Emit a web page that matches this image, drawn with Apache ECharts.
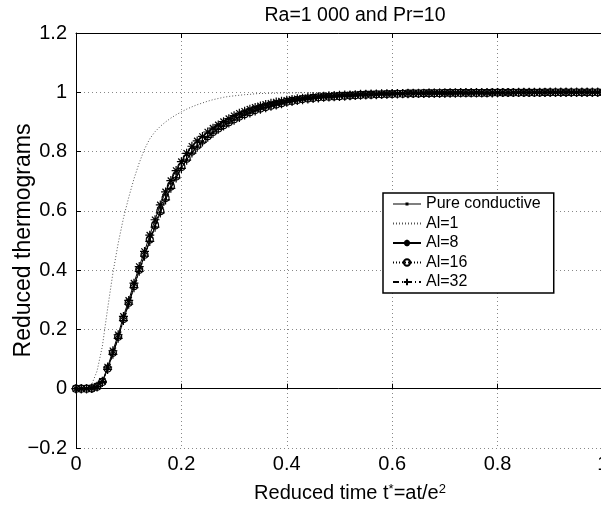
<!DOCTYPE html>
<html>
<head>
<meta charset="utf-8">
<script src="https://cdn.jsdelivr.net/npm/echarts@6/dist/echarts.min.js"></script>
<style>
  html, body { margin: 0; padding: 0; background: #fff; }
  #chart { width: 601px; height: 510px; }
</style>
</head>
<body>
<div id="chart"></div>
<script>
// reduced time t* (sampled every 0.01)
var time = [0,0.01,0.02,0.03,0.04,0.05,0.06,0.07,0.08,0.09,
  0.10,0.11,0.12,0.13,0.14,0.15,0.16,0.17,0.18,0.19,
  0.20,0.21,0.22,0.23,0.24,0.25,0.26,0.27,0.28,0.29,
  0.30,0.31,0.32,0.33,0.34,0.35,0.36,0.37,0.38,0.39,
  0.40,0.41,0.42,0.43,0.44,0.45,0.46,0.47,0.48,0.49,
  0.50,0.51,0.52,0.53,0.54,0.55,0.56,0.57,0.58,0.59,
  0.60,0.61,0.62,0.63,0.64,0.65,0.66,0.67,0.68,0.69,
  0.70,0.71,0.72,0.73,0.74,0.75,0.76,0.77,0.78,0.79,
  0.80,0.81,0.82,0.83,0.84,0.85,0.86,0.87,0.88,0.89,
  0.90,0.91,0.92,0.93,0.94,0.95,0.96,0.97,0.98,0.99,
  1.00];

var pureCond = [0,0,0,0.001,0.006,0.022,0.066,0.118,0.172,0.232,
  0.287,0.343,0.398,0.449,0.500,0.548,0.596,0.640,0.679,0.713,
  0.745,0.773,0.797,0.817,0.834,0.850,0.864,0.876,0.887,0.897,
  0.907,0.916,0.924,0.931,0.938,0.944,0.949,0.954,0.958,0.962,
  0.967,0.970,0.973,0.976,0.978,0.980,0.982,0.984,0.985,0.986,
  0.987,0.988,0.989,0.990,0.991,0.992,0.992,0.993,0.993,0.994,
  0.994,0.995,0.995,0.996,0.996,0.996,0.997,0.997,0.997,0.997,
  0.997,0.998,0.998,0.998,0.998,0.998,0.998,0.998,0.998,0.998,
  0.998,0.999,0.999,0.999,0.999,0.999,0.999,0.999,0.999,0.999,
  0.999,1,1,1,1,1,1,1,1,1,
  1];

var al1 = [0,0,0.001,0.015,0.060,0.143,0.270,0.390,0.490,0.575,
  0.645,0.708,0.762,0.808,0.843,0.867,0.885,0.900,0.913,0.924,
  0.934,0.943,0.951,0.958,0.964,0.970,0.975,0.979,0.983,0.986,
  0.988,0.990,0.992,0.993,0.995,0.996,0.996,0.997,0.997,0.998,
  0.998,0.998,0.998,0.999,0.999,0.999,0.999,0.999,0.999,0.999,
  1,1,1,1,1,1,1,1,1,1,
  1,1,1,1,1,1,1,1,1,1,
  1,1,1,1,1,1,1,1,1,1,
  1,1,1,1,1,1,1,1,1,1,
  1,1,1,1,1,1,1,1,1,1,
  1];

var al8 = [0,0,0,0.002,0.008,0.025,0.073,0.128,0.182,0.244,
  0.298,0.356,0.412,0.463,0.518,0.570,0.620,0.664,0.702,0.736,
  0.766,0.794,0.818,0.836,0.851,0.866,0.879,0.890,0.901,0.911,
  0.921,0.929,0.936,0.943,0.949,0.954,0.959,0.963,0.967,0.970,
  0.973,0.976,0.978,0.980,0.982,0.984,0.985,0.987,0.988,0.989,
  0.990,0.991,0.991,0.992,0.993,0.993,0.994,0.994,0.995,0.995,
  0.996,0.996,0.996,0.997,0.997,0.997,0.997,0.998,0.998,0.998,
  0.998,0.998,0.998,0.999,0.999,0.999,0.999,0.999,0.999,0.999,
  0.999,0.999,0.999,0.999,1,1,1,1,1,1,
  1,1,1,1,1,1,1,1,1,1,
  1];

var al16 = [0,0,0,0.001,0.007,0.023,0.068,0.121,0.175,0.235,
  0.290,0.346,0.401,0.452,0.503,0.551,0.599,0.643,0.682,0.716,
  0.748,0.776,0.800,0.820,0.837,0.852,0.866,0.878,0.889,0.899,
  0.909,0.918,0.926,0.933,0.940,0.945,0.950,0.955,0.959,0.963,
  0.968,0.971,0.974,0.977,0.979,0.981,0.983,0.984,0.985,0.986,
  0.987,0.988,0.989,0.990,0.991,0.992,0.992,0.993,0.993,0.994,
  0.994,0.995,0.995,0.996,0.996,0.996,0.997,0.997,0.997,0.997,
  0.998,0.998,0.998,0.998,0.998,0.998,0.998,0.998,0.998,0.999,
  0.999,0.999,0.999,0.999,0.999,0.999,0.999,0.999,0.999,1,
  1,1,1,1,1,1,1,1,1,1,
  1];

var al32 = [0,0,0,0.001,0.006,0.021,0.065,0.116,0.170,0.230,
  0.285,0.341,0.396,0.447,0.497,0.545,0.593,0.637,0.676,0.711,
  0.743,0.771,0.795,0.815,0.832,0.848,0.862,0.875,0.886,0.896,
  0.906,0.915,0.923,0.930,0.937,0.943,0.948,0.953,0.957,0.961,
  0.966,0.969,0.972,0.975,0.977,0.979,0.981,0.983,0.984,0.985,
  0.986,0.987,0.988,0.989,0.990,0.991,0.992,0.992,0.993,0.993,
  0.994,0.994,0.995,0.995,0.996,0.996,0.996,0.997,0.997,0.997,
  0.997,0.998,0.998,0.998,0.998,0.998,0.998,0.998,0.998,0.998,
  0.999,0.999,0.999,0.999,0.999,0.999,0.999,0.999,0.999,0.999,
  1,1,1,1,1,1,1,1,1,1,
  1];

var FONT = 'Liberation Sans';
var asterisk = 'path://M0,5L10,5M5,0L5,10M1.5,1.5L8.5,8.5M8.5,1.5L1.5,8.5';
var plus = 'path://M0,5L10,5M5,0L5,10';
// legend sample for "Pure conductive": thin line with a small dot
var lineDot = 'path://M0,3.5L28,3.5L28,4.5L0,4.5Z M12.5,2.5L15.5,2.5L15.5,5.5L12.5,5.5Z';

function pairs(ys) {
  return time.map(function (t, i) { return [t, ys[i]]; });
}

function tickFmt(v) {
  var s = String(+v.toFixed(2));
  return v < 0 ? '\u2212' + s.slice(1) : s;
}

var chart = echarts.init(document.getElementById('chart'), null, { renderer: 'canvas' });

var option = {
  animation: false,
  backgroundColor: '#fff',
  title: {
    text: 'Ra=1 000 and Pr=10',
    left: 350,
    top: 1,
    textAlign: 'center',
    textStyle: { fontFamily: FONT, fontSize: 19.5, fontWeight: 'normal', color: '#000' }
  },
  grid: { left: 76, top: 33, width: 548, height: 415, containLabel: false, outerBoundsMode: 'none' },
  legend: {
    orient: 'vertical',
    left: 383,
    top: 193,
    data: [
      { name: 'Pure conductive', icon: lineDot, itemStyle: { color: '#000', borderWidth: 0 } },
      { name: 'Al=1', itemStyle: { opacity: 0 } },
      'Al=8',
      'Al=16',
      'Al=32'
    ],
    symbolKeepAspect: true,
    backgroundColor: '#fff',
    borderColor: '#000',
    borderWidth: 1.5,
    borderRadius: 0,
    padding: [3, 13, 3, 9],
    itemWidth: 28,
    itemHeight: 8,
    itemGap: 3.5,
    itemTextGap: 10,
    textStyle: { fontFamily: FONT, fontSize: 16, color: '#000' }
  },
  xAxis: [{
    type: 'value',
    min: 0,
    max: 1.04,
    interval: 0.2,
    name: 'Reduced time t{sup|*}=at/e{sup|2}',
    nameLocation: 'middle',
    nameGap: 35,
    nameMoveOverlap: false,
    nameTextStyle: {
      fontFamily: FONT, fontSize: 20, color: '#000',
      rich: { sup: { fontFamily: FONT, fontSize: 13, color: '#000', verticalAlign: 'top' } }
    },
    axisLine: { lineStyle: { color: '#000', width: 1 } },
    axisTick: { inside: true, length: 5, lineStyle: { color: '#000' } },
    axisLabel: { fontFamily: FONT, fontSize: 20, color: '#000', margin: 6, formatter: tickFmt },
    splitLine: { show: true, lineStyle: { color: '#888', width: 1, type: [1, 3] } }
  }, {
    type: 'value',
    position: 'top',
    min: 0,
    max: 1.04,
    interval: 0.2,
    axisLine: { lineStyle: { color: '#000', width: 1 } },
    axisTick: { inside: true, length: 5, lineStyle: { color: '#000' } },
    axisLabel: { show: false },
    splitLine: { show: false }
  }],
  yAxis: [{
    type: 'value',
    min: -0.2,
    max: 1.2,
    interval: 0.2,
    name: 'Reduced thermograms',
    nameLocation: 'middle',
    nameGap: 41,
    nameMoveOverlap: false,
    nameTextStyle: { fontFamily: FONT, fontSize: 23, color: '#000' },
    axisLine: { show: true, lineStyle: { color: '#000', width: 1 } },
    axisTick: { show: true, inside: true, length: 5, lineStyle: { color: '#000' } },
    axisLabel: { fontFamily: FONT, fontSize: 20, color: '#000', margin: 9, formatter: tickFmt },
    splitLine: { show: true, lineStyle: { color: '#888', width: 1, type: [1, 3] } }
  }],
  series: [{
    name: 'Pure conductive',
    type: 'line',
    data: pairs(pureCond),
    symbol: 'circle',
    symbolSize: 3,
    showAllSymbol: true,
    itemStyle: { color: '#000' },
    lineStyle: { color: '#000', width: 1, type: 'solid' },
    emphasis: { disabled: true }
  }, {
    name: 'Al=1',
    type: 'line',
    data: pairs(al1),
    showSymbol: false,
    symbol: 'none',
    itemStyle: { color: '#555' },
    lineStyle: { color: '#555', width: 1, type: [1, 2] },
    emphasis: { disabled: true }
  }, {
    name: 'Al=8',
    type: 'line',
    data: pairs(al8),
    symbol: asterisk,
    symbolSize: 9,
    showAllSymbol: true,
    itemStyle: { color: 'transparent', borderColor: '#000', borderWidth: 1.2 },
    lineStyle: { color: '#000', width: 1, type: 'solid' },
    emphasis: { disabled: true }
  }, {
    name: 'Al=16',
    type: 'line',
    data: pairs(al16),
    symbol: 'circle',
    symbolSize: 7,
    showAllSymbol: true,
    itemStyle: { color: 'transparent', borderColor: '#000', borderWidth: 1.2 },
    lineStyle: { color: '#000', width: 1, type: [1, 2] },
    emphasis: { disabled: true }
  }, {
    name: 'Al=32',
    type: 'line',
    data: pairs(al32),
    symbol: plus,
    symbolSize: 9,
    showAllSymbol: true,
    itemStyle: { color: 'transparent', borderColor: '#000', borderWidth: 1.2 },
    lineStyle: { color: '#000', width: 1, type: [6, 3, 1, 3] },
    emphasis: { disabled: true }
  }]
};

chart.setOption(option);
</script>
</body>
</html>
